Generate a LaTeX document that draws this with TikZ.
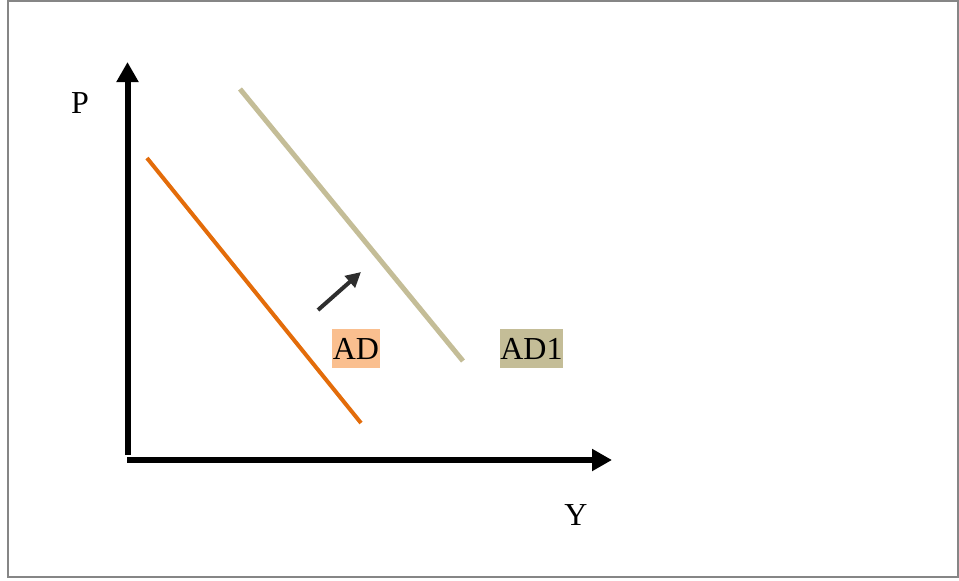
\documentclass[tikz,border=0pt]{standalone}
\usepackage{fontspec}
\setmainfont{Liberation Serif}
\usepackage{xcolor}
\usetikzlibrary{arrows.meta, positioning}

\definecolor{adorange}{HTML}{E36C0A}
\definecolor{adlight}{HTML}{FABF8F}
\definecolor{adtan}{HTML}{C4BD97}
\definecolor{framegray}{HTML}{868686}

\begin{document}
\begin{tikzpicture}[
        x=0.5pt, y=-0.5pt,
        txt/.style={font=\fontsize{16}{19}\selectfont, inner sep=0pt},
        tag/.style={txt, fill=#1, inner xsep=0.4pt, minimum height=19.5pt},
        axis/.style={-{Triangle[length=10pt, width=10.5pt]}, line width=3pt, black},
        curve/.style={line width=#1},
        shiftarr/.style={-{Triangle[length=7.5pt, width=7.5pt]}, line width=2pt, draw=black!82}
    ]
        \useasboundingbox (0,0) rectangle (959,580);
        \draw[framegray, line width=1pt] (8,1) rectangle (957.5,577);

        % axes
        \coordinate (ybot) at (127.5,455);
        \coordinate (ytop) at (127.5,62);
        \coordinate (xleft) at (127,460);
        \coordinate (xright) at (612,460);
        \draw[axis] (ybot) -- (ytop);
        \draw[axis] (xleft) -- (xright);
        \node[txt] (plabel) at (80,103) {P};
        \node[txt] (ylabel) at (576,515) {Y};

        % demand curves
        \coordinate (ad0) at (147,158);
        \coordinate (ad1) at (361,423);
        \coordinate (adb0) at (240,89);
        \coordinate (adb1) at (463,361);
        \draw[curve=2pt, adorange] (ad0) -- (ad1);
        \draw[curve=2.5pt, adtan] (adb0) -- (adb1);

        \node[tag=adlight] (ad) at (356,348.5) {AD};
        \node[tag=adtan] (adone) at (531.5,348.5) {AD1};

        % shift
        \coordinate (s0) at (318,310);
        \coordinate (s1) at (361,272);
        \draw[shiftarr] (s0) -- (s1);
    \end{tikzpicture}
\end{document}
